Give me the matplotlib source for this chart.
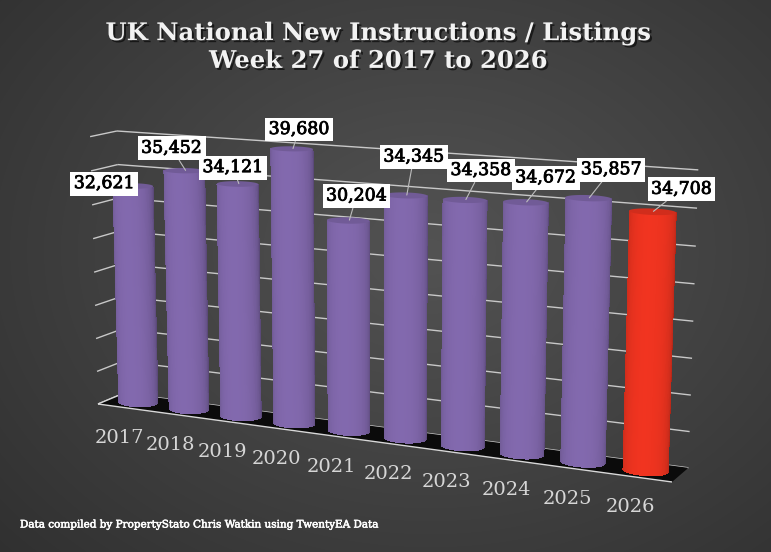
import numpy as np
import matplotlib
matplotlib.use('Agg')
import matplotlib.pyplot as plt
import matplotlib.patheffects as pe
from matplotlib.colors import to_rgb
from mpl_toolkits.mplot3d import proj3d
from mpl_toolkits.mplot3d.art3d import Poly3DCollection, Line3DCollection

# ---------------- data ----------------
years = ['2017', '2018', '2019', '2020', '2021', '2022', '2023', '2024', '2025', '2026']
values = [32621, 35452, 34121, 39680, 30204, 34345, 34358, 34672, 35857, 34708]
value_labels = ['32,621', '35,452', '34,121', '39,680', '30,204',
                '34,345', '34,358', '34,672', '35,857', '34,708']
z_max = 40000
z_step = 5000

title = 'UK National New Instructions / Listings\nWeek 27 of 2017 to 2026'
footer = 'Data compiled by PropertyStato Chris Watkin using TwentyEA Data'

# ---------------- style ----------------
purple = '#7b63a4'
red = '#e3311e'
bar_colors = [purple] * 9 + [red]
# label offsets in pixels (screen), relative to bar top centre
lab_dx = [-30, -14, -6, 6, 7, 7, 15, 19, 22, 28]
lab_dy = [2, 22, 16, 19, 24, 38, 29, 24, 28, 22]
W, H = 771, 552
serif = 'DejaVu Serif'

fig = plt.figure(figsize=(W / 100, H / 100), dpi=100)

# background radial gradient
bg = fig.add_axes([0, 0, 1, 1])
bg.set_axis_off()
yy, xx = np.mgrid[0:H, 0:W]
d = np.sqrt(((xx - 430) / 560.0) ** 2 + ((yy - 250) / 430.0) ** 2)
g = np.clip(0.325 - 0.13 * d, 0.14, 0.34)
bg.imshow(np.dstack([g, g, g]), extent=[0, 1, 0, 1], aspect='auto', origin='upper')
bg.set_xlim(0, 1)
bg.set_ylim(0, 1)

rect = [0.0, 0.0, 1.0, 1.0]
ax = fig.add_axes(rect, projection='3d')
ax.set_axis_off()
ax.set_facecolor((0, 0, 0, 0))
ax.computed_zorder = False
ELEV, AZIM = 12, -64
ax.view_init(elev=ELEV, azim=AZIM)
ax.set_proj_type('persp', focal_length=0.55)

n = len(values)
R = 0.35
x0, x1 = -0.55, n - 1 + 0.55
y0, y1 = -0.5, 0.5
YASP = 0.8
try:
    ax.set_xlim(x0, x1, view_margin=0)
    ax.set_ylim(y0, y1, view_margin=0)
    ax.set_zlim(0, z_max, view_margin=0)
except TypeError:
    ax.set_xlim(x0, x1)
    ax.set_ylim(y0, y1)
    ax.set_zlim(0, z_max)
zaspect = 4.6
ax.set_box_aspect((x1 - x0, (y1 - y0) * YASP, zaspect))

# floor
floor = Poly3DCollection([[(x0, y0, 0), (x1, y0, 0), (x1, y1, 0), (x0, y1, 0)]],
                         facecolor='#0b0b0b', edgecolor='none', zorder=2)
ax.add_collection3d(floor)

# gridlines on back wall and left wall
segs = []
for zz in np.arange(0, z_max + 1, z_step):
    segs.append([(x0, y1, zz), (x1, y1, zz)])
    segs.append([(x0, y0, zz), (x0, y1, zz)])
grid = Line3DCollection(segs, colors='#c8c8c8', linewidths=1.0, zorder=1)
ax.add_collection3d(grid)
edges = Line3DCollection([[(x0, y0, 0), (x1, y0, 0)], [(x0, y0, 0), (x0, y1, 0)]],
                         colors='#d8d8d8', linewidths=1.0, zorder=3)
ax.add_collection3d(edges)

# cylinders (visible front arc of the side surface + top disk)
phi_v = np.deg2rad(AZIM)
half = np.deg2rad(86)
theta = np.linspace(phi_v - half, phi_v + half, 61)
theta_full = np.linspace(0, 2 * np.pi, 97)
phi = np.deg2rad(AZIM - 15)
nz = 8
for i, v in enumerate(values):
    zs = np.linspace(0, v, nz + 1)
    X = np.tile(i + R * np.cos(theta), (nz + 1, 1))
    Y = np.tile(R * np.sin(theta), (nz + 1, 1))
    Z = np.tile(zs[:, None], (1, len(theta)))
    mid = theta + (theta[1] - theta[0]) / 2
    c = np.array(to_rgb(bar_colors[i]))
    f = 0.74 + 0.32 * np.clip(np.cos(mid - phi), 0, 1) ** 0.6
    cols = np.clip(c[None, :] * f[:, None], 0, 1)
    fc = np.concatenate([cols, np.ones((len(theta), 1))], axis=1)
    fc = np.tile(fc[None, :, :], (nz + 1, 1, 1))
    ax.plot_surface(X, Y, Z, facecolors=fc, shade=False, linewidth=0,
                    antialiased=False, rstride=1, cstride=1, zorder=10 + 2 * i)
    top = Poly3DCollection([list(zip(i + R * np.cos(theta_full), R * np.sin(theta_full),
                                     np.full_like(theta_full, v)))],
                           facecolor=tuple(np.clip(c * 0.92, 0, 1)), edgecolor='none',
                           zorder=11 + 2 * i)
    ax.add_collection3d(top)


def to_px(x, y, z):
    x2, y2, _ = proj3d.proj_transform(x, y, z, ax.get_proj())
    return ax.transData.transform((x2, y2))


# fit the scene into the target region of the picture
tgt_l = np.array([98.0, H - 404.0])
tgt_r = np.array([672.0, H - 480.0])
tgt_top = H - 131.0
for _ in range(5):
    fig.canvas.draw()
    pl = to_px(x0, y0, 0)
    pr = to_px(x1, y0, 0)
    pt = to_px(x0, y1, z_max)
    pb = to_px(x0, y1, 0)
    s = (tgt_r[0] - tgt_l[0]) / (pr[0] - pl[0])
    bb = ax.get_position()
    cx, cy = (bb.x0 + bb.width / 2) * W, (bb.y0 + bb.height / 2) * H
    cur_h = (pt[1] - pb[1]) * s
    want_h = tgt_top - (pb[1] - pl[1]) * s - tgt_l[1]
    zaspect *= want_h / cur_h
    ax.set_box_aspect((x1 - x0, (y1 - y0) * YASP, zaspect))
    nw, nh = rect[2] * s, rect[3] * s
    ncx = cx + (tgt_l[0] - (cx + s * (pl[0] - cx)))
    ncy = cy + (tgt_l[1] - (cy + s * (pl[1] - cy)))
    rect = [ncx / W - nw / 2, ncy / H - nh / 2, nw, nh]
    ax.set_position(rect)
fig.canvas.draw()

bold_fx = [pe.withStroke(linewidth=0.6, foreground='black')]
# value labels
for i, v in enumerate(values):
    x2, y2, _ = proj3d.proj_transform(i, 0.05, v, ax.get_proj())
    ax.annotate(value_labels[i], xy=(x2, y2), xycoords='data',
                xytext=(lab_dx[i] * 0.72, lab_dy[i] * 0.72), textcoords='offset points',
                ha='center', va='center', fontsize=12.5, family=serif, color='black',
                path_effects=bold_fx,
                bbox=dict(boxstyle='square,pad=0.2', fc='white', ec='none'),
                arrowprops=dict(arrowstyle='-', color='#bdbdbd', lw=0.8,
                                shrinkA=0, shrinkB=0),
                zorder=100)

# year labels
for i, yr in enumerate(years):
    x2, y2, _ = proj3d.proj_transform(i, y0, 0, ax.get_proj())
    ax.annotate(yr, xy=(x2, y2), xycoords='data', xytext=(-6 * 0.72, -30 * 0.72),
                textcoords='offset points', ha='center', va='center',
                fontsize=14, family=serif, color='#d6d6d6', zorder=100)

shadow = [pe.withSimplePatchShadow(offset=(1.5, -1.5), shadow_rgbFace='black', alpha=0.6)]
fig.text(0.49, 1 - 47 / H, title, ha='center', va='center', fontsize=17.5, weight='bold',
         family=serif, color='#f2f2f2', linespacing=1.2, path_effects=shadow)
fig.text(20 / W, 1 - 525 / H, footer, ha='left', va='center', fontsize=7.5,
         family=serif, color='white',
         path_effects=[pe.withStroke(linewidth=0.4, foreground='white')])

fig.savefig('out.png', dpi=100)
